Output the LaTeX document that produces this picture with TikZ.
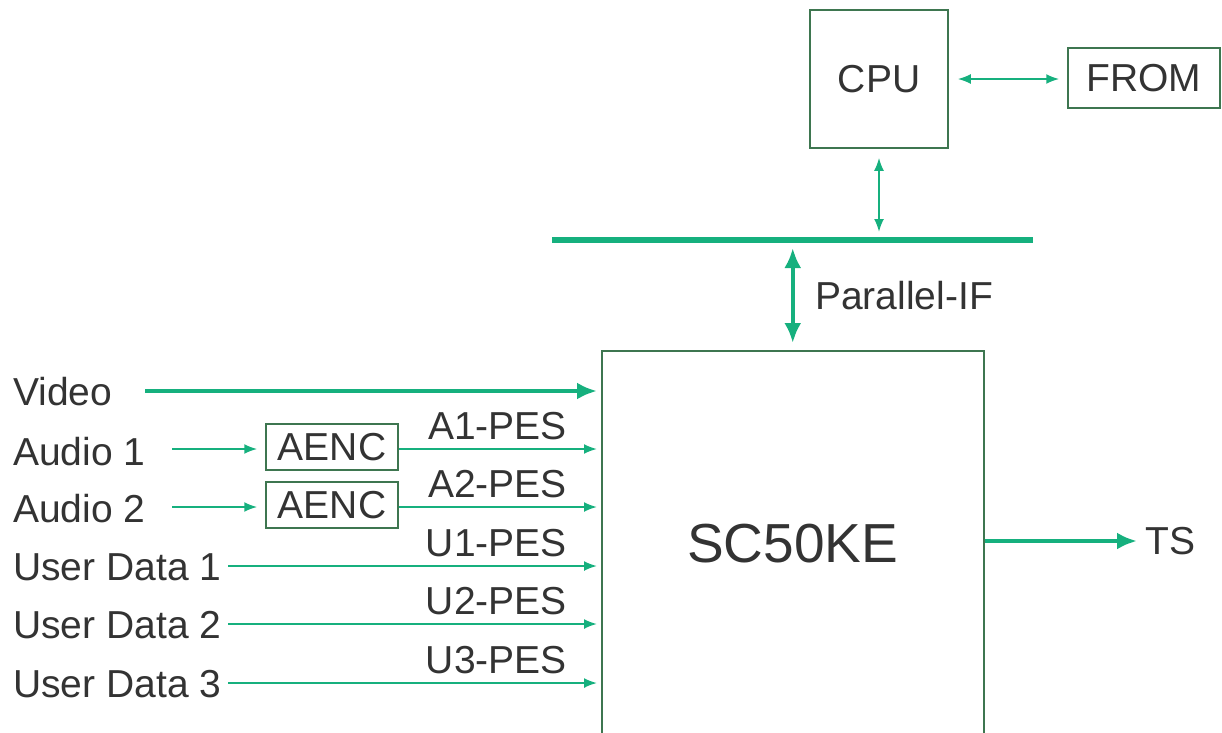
\documentclass[tikz,border=0pt]{standalone}
\usepackage{fontspec}
\setmainfont{Liberation Sans}
\usetikzlibrary{arrows.meta,calc}
\definecolor{lgreen}{RGB}{22,176,126}
\definecolor{bgreen}{RGB}{62,118,80}
\definecolor{txt}{RGB}{51,51,51}
\begin{document}
\begin{tikzpicture}[x=1pt,y=-1pt,
  lbl/.style={font=\fontsize{39}{41}\selectfont, text=txt, inner sep=0pt},
  box/.style={draw=bgreen, line width=1.5pt, inner sep=0pt, font=\fontsize{39}{41}\selectfont, text=txt},
  thinarrow/.style={draw=lgreen, line width=2pt, -{Latex[length=13pt,width=10pt]}},
  thickarrow/.style={draw=lgreen, line width=4.5pt, -{Latex[length=20pt,width=17pt]}},
  thinboth/.style={draw=lgreen, line width=2pt, {Latex[length=13pt,width=10pt]}-{Latex[length=13pt,width=10pt]}},
  thickboth/.style={draw=lgreen, line width=4.5pt, {Latex[length=20pt,width=17pt]}-{Latex[length=20pt,width=17pt]}},
]
\useasboundingbox (0,0) rectangle (1222,732);
\begin{scope}
\clip (0,0) rectangle (1222,732);
% boxes
\node[box, minimum width=138pt, minimum height=138pt] (cpu) at (879,79) {CPU};
\node[box, minimum width=152pt, minimum height=60pt] (from) at (1144,78) {FROM};
\node[box, minimum width=382pt, minimum height=386pt, anchor=north west, font=\fontsize{55}{57}\selectfont] (sc) at (601,350) {SC50KE};
\node[box, minimum width=132pt, minimum height=46pt] (aenc1) at (332,447) {AENC};
\node[box, minimum width=132pt, minimum height=46pt] (aenc2) at (332,505) {AENC};
% bus
\coordinate (busL) at (552,240);
\coordinate (busR) at (1033,240);
\draw[lgreen, line width=5.5pt] (busL) -- (busR);
% CPU links
\draw[thinboth, shorten <=9pt, shorten >=8pt] (cpu.east) -- (cpu.east -| from.west);
\draw[thinboth, shorten <=9pt, shorten >=8pt] (cpu.south) -- (cpu.south |- busL);
\draw[thickboth, shorten <=8pt, shorten >=7pt] (sc.north |- busL) -- (sc.north);
\node[lbl, anchor=base west] (pif) at (815,309) {Parallel-IF};
% inputs
\node[lbl, anchor=base west] (video) at (13,405) {Video};
\node[lbl, anchor=base west] (au1) at (13,465) {Audio 1};
\node[lbl, anchor=base west] (au2) at (13,522) {Audio 2};
\node[lbl, anchor=base west] (ud1) at (13,580) {User Data 1};
\node[lbl, anchor=base west] (ud2) at (13,638) {User Data 2};
\node[lbl, anchor=base west] (ud3) at (13,697) {User Data 3};
\coordinate (vs) at (145,391);
\coordinate (a1s) at (172,449);
\coordinate (a2s) at (172,507);
\coordinate (u1s) at (228,566);
\coordinate (u2s) at (228,624);
\coordinate (u3s) at (228,683);
\draw[thickarrow, shorten >=4pt] (vs) -- (vs -| sc.west);
\draw[thinarrow, shorten >=8pt] (a1s) -- (a1s -| aenc1.west);
\draw[thinarrow, shorten >=8pt] (a2s) -- (a2s -| aenc2.west);
\draw[thinarrow, shorten >=4pt] (aenc1.east |- a1s) -- (a1s -| sc.west);
\draw[thinarrow, shorten >=4pt] (aenc2.east |- a2s) -- (a2s -| sc.west);
\draw[thinarrow, shorten >=4pt] (u1s) -- (u1s -| sc.west);
\draw[thinarrow, shorten >=4pt] (u2s) -- (u2s -| sc.west);
\draw[thinarrow, shorten >=4pt] (u3s) -- (u3s -| sc.west);
\node[lbl, anchor=base east] (l1) at (567,439) {A1-PES};
\node[lbl, anchor=base east] (l2) at (567,497) {A2-PES};
\node[lbl, anchor=base east] (l3) at (567,556) {U1-PES};
\node[lbl, anchor=base east] (l4) at (567,614) {U2-PES};
\node[lbl, anchor=base east] (l5) at (567,673) {U3-PES};
% output
\node[lbl, anchor=west] (ts) at (1145,541) {TS};
\draw[thickarrow, shorten >=8pt] (sc.east |- ts) -- (ts.west);
\end{scope}
\end{tikzpicture}
\end{document}
